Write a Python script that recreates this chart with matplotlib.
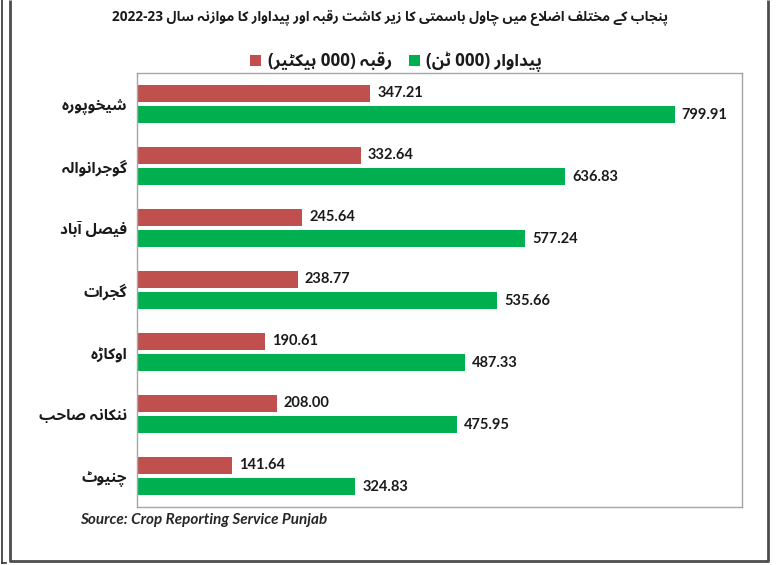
import re
import matplotlib
matplotlib.use("Agg")
import matplotlib.pyplot as plt
from matplotlib import font_manager
from matplotlib.lines import Line2D
from fontTools.ttLib import TTFont
from fontTools.varLib import instancer

# ---------------- data ----------------
districts = ["شیخوپورہ", "گوجرانوالہ", "فیصل آباد", "گجرات", "اوکاڑہ", "ننکانہ صاحب", "چنیوٹ"]
area = [347.21, 332.64, 245.64, 238.77, 190.61, 208.00, 141.64]          # 000 hectares
production = [799.91, 636.83, 577.24, 535.66, 487.33, 475.95, 324.83]    # 000 tonnes
title = "پنجاب کے مختلف اضلاع میں چاول باسمتی کا زیر کاشت رقبہ اور پیداوار کا موازنہ سال 2022-23"
area_label = "رقبہ (000 ہیکٹیر)"
production_label = "پیداوار (000 ٹن)"
source = "Source: Crop Reporting Service Punjab"

RED = "#C0504D"
GREEN = "#00B050"

# ---------------- bold Urdu font (static instance of the variable Noto Sans Arabic) ----------------
URDU = "DejaVu Sans"
try:
    vf_path = [p for p in font_manager.findSystemFonts()
               if p.split("/")[-1].startswith("NotoSansArabic[")][0]
    vf = TTFont(vf_path)
    axes = {a.axisTag: a for a in vf["fvar"].axes}
    loc = {"wght": 700}
    if "wdth" in axes:
        loc["wdth"] = 100
    inst = instancer.instantiateVariableFont(vf, loc)
    for rec in inst["name"].names:
        if rec.nameID in (1, 4, 6, 16):
            rec.string = "UrduSansBold"
        elif rec.nameID in (2, 17):
            rec.string = "Regular"
    inst.save("urdu_bold.ttf")
    font_manager.fontManager.addfont("urdu_bold.ttf")
    URDU = font_manager.FontProperties(fname="urdu_bold.ttf").get_name()
except Exception:
    pass

URDU_FAMILY = [URDU, "Lato", "DejaVu Sans"]

# ---------------- contextual shaping + visual ordering ----------------
# letter: (isolated, final, initial, medial); initial None -> joins only to the right
FORMS = {
    "ا": (0xFE8D, 0xFE8E, None, None), "آ": (0xFE81, 0xFE82, None, None),
    "ب": (0xFE8F, 0xFE90, 0xFE91, 0xFE92), "پ": (0xFB56, 0xFB57, 0xFB58, 0xFB59),
    "ت": (0xFE95, 0xFE96, 0xFE97, 0xFE98), "ٹ": (0xFB66, 0xFB67, 0xFB68, 0xFB69),
    "ج": (0xFE9D, 0xFE9E, 0xFE9F, 0xFEA0), "چ": (0xFB7A, 0xFB7B, 0xFB7C, 0xFB7D),
    "ح": (0xFEA1, 0xFEA2, 0xFEA3, 0xFEA4), "خ": (0xFEA5, 0xFEA6, 0xFEA7, 0xFEA8),
    "د": (0xFEA9, 0xFEAA, None, None), "ر": (0xFEAD, 0xFEAE, None, None),
    "ڑ": (0xFB8C, 0xFB8D, None, None), "ز": (0xFEAF, 0xFEB0, None, None),
    "س": (0xFEB1, 0xFEB2, 0xFEB3, 0xFEB4), "ش": (0xFEB5, 0xFEB6, 0xFEB7, 0xFEB8),
    "ص": (0xFEB9, 0xFEBA, 0xFEBB, 0xFEBC), "ض": (0xFEBD, 0xFEBE, 0xFEBF, 0xFEC0),
    "ع": (0xFEC9, 0xFECA, 0xFECB, 0xFECC), "ف": (0xFED1, 0xFED2, 0xFED3, 0xFED4),
    "ق": (0xFED5, 0xFED6, 0xFED7, 0xFED8), "ک": (0xFB8E, 0xFB8F, 0xFB90, 0xFB91),
    "گ": (0xFB92, 0xFB93, 0xFB94, 0xFB95), "ل": (0xFEDD, 0xFEDE, 0xFEDF, 0xFEE0),
    "م": (0xFEE1, 0xFEE2, 0xFEE3, 0xFEE4), "ن": (0xFEE5, 0xFEE6, 0xFEE7, 0xFEE8),
    "ں": (0xFB9E, 0xFB9F, 0xFEE7, 0xFEE8), "و": (0xFEED, 0xFEEE, None, None),
    "ہ": (0xFBA6, 0xFBA7, 0xFBA8, 0xFBA9), "ی": (0xFBFC, 0xFBFD, 0xFBFE, 0xFBFF),
    "ے": (0xFBAE, 0xFBAF, None, None),
}
LAM_ALEF = {"ا": (0xFEFB, 0xFEFC), "آ": (0xFEF5, 0xFEF6)}


def dual(ch):
    return ch in FORMS and FORMS[ch][2] is not None


def shape(text):
    out = []
    i, n = 0, len(text)
    while i < n:
        ch = text[i]
        if ch not in FORMS:
            out.append(ch)
            i += 1
            continue
        prev = text[i - 1] if i > 0 else ""
        joins_prev = dual(prev)
        nxt = text[i + 1] if i + 1 < n else ""
        if ch == "ل" and nxt in LAM_ALEF:
            out.append(chr(LAM_ALEF[nxt][1 if joins_prev else 0]))
            i += 2
            continue
        joins_next = dual(ch) and nxt in FORMS
        iso, fin, ini, med = FORMS[ch]
        if joins_prev and joins_next:
            code = med
        elif joins_prev:
            code = fin
        elif joins_next:
            code = ini
        else:
            code = iso
        out.append(chr(code))
        i += 1
    return "".join(out)


def rtl(text):
    vis = shape(text)[::-1]
    vis = re.sub(r"[0-9A-Za-z][0-9A-Za-z.\-]*", lambda m: m.group(0)[::-1], vis)
    return vis.translate(str.maketrans("()", ")("))


# ---------------- figure ----------------
W, H = 778, 565
fig = plt.figure(figsize=(W / 100, H / 100), dpi=100)
fig.patch.set_facecolor("white")


def fx(px):
    return px / W


def fy(py):
    return 1 - py / H


ax = fig.add_axes([fx(137), fy(507), fx(742) - fx(137), fy(73) - fy(507)])

ypos = list(range(len(districts)))
off, bh = 0.17, 0.26
red_bars = ax.barh([y - off for y in ypos], area, height=bh, color=RED)
green_bars = ax.barh([y + off for y in ypos], production, height=bh, color=GREEN)

ax.set_xlim(0, 900)
ax.set_ylim(len(districts) - 0.5, -0.5)
ax.set_xticks([])
ax.set_yticks(ypos)
ax.set_yticklabels([rtl(d) for d in districts], family=URDU_FAMILY,
                   fontweight="bold", fontsize=11, color="#1a1a1a")
ax.tick_params(axis="y", length=0, pad=7)
for sp in ax.spines.values():
    sp.set_color("#a6a6a6")
    sp.set_linewidth(1.0)

for bars, vals in ((red_bars, area), (green_bars, production)):
    for b, v in zip(bars, vals):
        ax.annotate(f"{v:.2f}", (v, b.get_y() + b.get_height() / 2),
                    xytext=(5, 0), textcoords="offset points", va="center", ha="left",
                    family="Lato", fontweight="bold", fontsize=10.5, color="#1a1a1a")

fig.text(fx(390), fy(18), rtl(title), ha="center", va="center", family=URDU_FAMILY,
         fontweight="bold", fontsize=9.8, color="#1a1a1a")

leg = fig.legend([red_bars, green_bars], [rtl(area_label), rtl(production_label)],
                 loc="center", bbox_to_anchor=(fx(396), fy(62)), ncol=2, frameon=False,
                 handlelength=0.65, handleheight=0.65, handletextpad=0.4, columnspacing=1.0,
                 prop=font_manager.FontProperties(family=URDU_FAMILY, weight="bold", size=12.2))
for t in leg.get_texts():
    t.set_color("#1a1a1a")

fig.text(fx(80), fy(520), source, ha="left", va="center", family="Lato",
         fontweight="bold", style="italic", fontsize=11, color="#262626")

# outer frame lines
frame = dict(transform=fig.transFigure, color="#4d4d4d", linewidth=2.0, solid_capstyle="butt")
fig.add_artist(Line2D([fx(10), fx(10)], [fy(561), 1.0], **frame))
fig.add_artist(Line2D([fx(768), fx(768)], [fy(561), 1.0], **frame))
fig.add_artist(Line2D([fx(9), fx(769)], [fy(561), fy(561)], **frame))
fig.add_artist(Line2D([fx(2), fx(2)], [fy(563), 1.0], transform=fig.transFigure,
                      color="#333333", linewidth=1.2))
fig.add_artist(Line2D([fx(1.5), fx(6)], [fy(563), fy(563)], transform=fig.transFigure,
                      color="#333333", linewidth=1.2))

fig.savefig("out.png", dpi=100, facecolor="white")
